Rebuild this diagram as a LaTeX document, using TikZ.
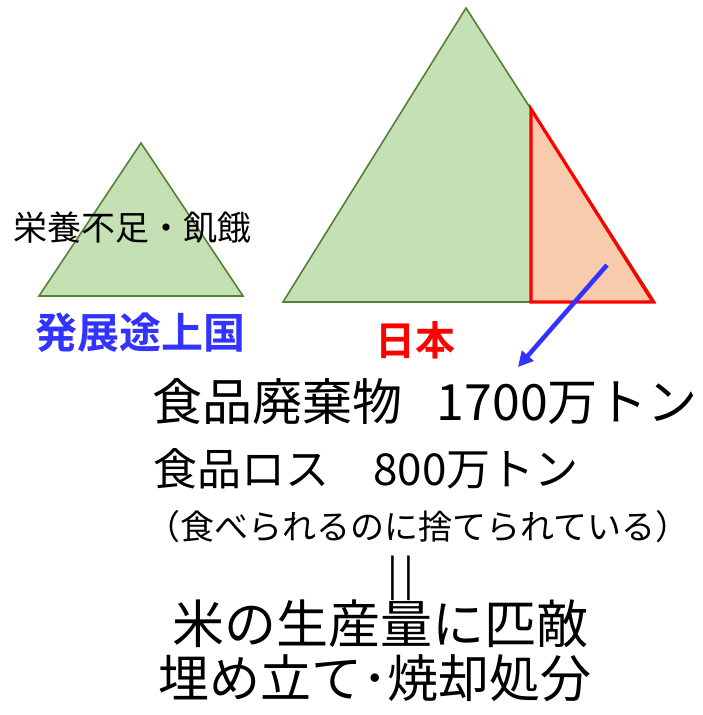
\documentclass[tikz,border=0pt]{standalone}
\usepackage{fontspec}
\setmainfont{Noto Sans CJK JP}[BoldFont={Noto Sans CJK JP Bold}]
\usetikzlibrary{arrows.meta}
\definecolor{leafgreen}{HTML}{C5E0B4}
\definecolor{edgegreen}{HTML}{548235}
\definecolor{lossorange}{HTML}{F8CBAD}
\definecolor{labelblue}{HTML}{3333FF}
\newcommand{\fsz}[1]{\fontsize{#1}{#1}\selectfont}

\begin{document}
\begin{tikzpicture}[x=1pt, y=-1pt,
    every node/.style={inner sep=0pt, anchor=center},
    pyramid/.style={draw=edgegreen, fill=leafgreen, line width=1.6pt},
    waste/.style={draw=red, fill=lossorange, line width=3.2pt},
    pointer/.style={draw=labelblue, line width=4.5pt, -{Triangle[length=15pt, width=15pt]}}]
    \useasboundingbox (0,0) rectangle (703,715);

    % Developing countries pyramid
    \coordinate (s1) at (141,143);
    \coordinate (s2) at (39,296);
    \coordinate (s3) at (243,296);
    \draw[pyramid] (s1) -- (s2) -- (s3) -- cycle;
    \node (hunger) at (132,228) {\fsz{34}栄養不足・飢餓};
    \node (dev) at (140,333) {\fsz{42}\bfseries\color{labelblue}発展途上国};

    % Japan pyramid
    \coordinate (j1) at (466,8);
    \coordinate (j2) at (283,302);
    \coordinate (j3) at (655,302);
    \draw[pyramid] (j1) -- (j2) -- (j3) -- cycle;
    \node (japan) at (415,340) {\fsz{40}\bfseries\color{red}日本};

    % Food waste part
    \coordinate (w1) at (531,109);
    \coordinate (w2) at (531,302);
    \coordinate (w3) at (653,302);
    \draw[waste, line join=miter] (w1) -- (w2) -- (w3) -- cycle;

    % Amounts
    \node (total) at (425,402) {\fsz{50}食品廃棄物\hspace{0.7em}1700万トン};
    \node (loss) at (366,469) {\fsz{44}食品ロス\hspace{1em}800万トン};
    \node (note) at (418,527) {\fsz{34}（食べられるのに捨てられている）};
    \node (equal) at (401,578) {\fsz{40}|\hspace{5pt}|};
    \node (rice) at (380,624) {\fsz{52}米の生産量に匹敵};
    \node (burn) at (375,678) {\fsz{51}埋め立て･焼却処分};

    % Arrow from the waste part
    \coordinate (from) at (607,265);
    \coordinate (to) at (518,367);
    \draw[pointer] (from) -- (to);
\end{tikzpicture}
\end{document}
